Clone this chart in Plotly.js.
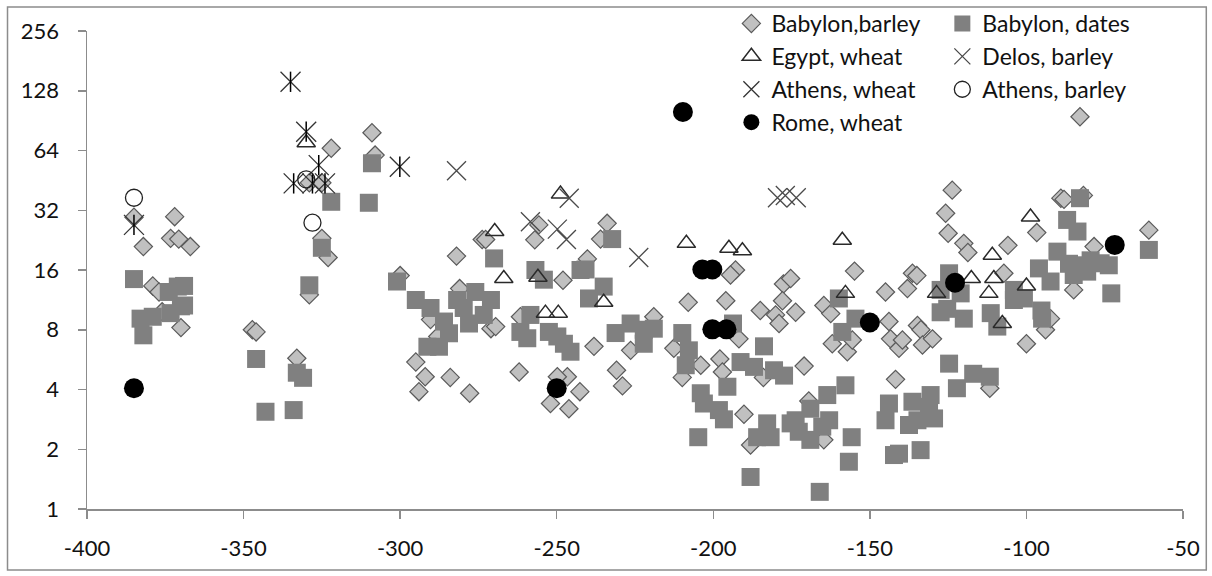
<!DOCTYPE html>
<html>
<head>
<meta charset="utf-8">
<script src="https://cdn.plot.ly/plotly-3.0.1.min.js"></script>
<style>
html,body{margin:0;padding:0;background:#fff;}
#chart{width:1212px;height:576px;}
</style>
</head>
<body>
<div id="chart"></div>
<script>
// ---- Data ----
const babylonBarleyX = [-385,-382,-372,-373.3,-370.7,-367,-379,-377,-376,-370,-347.2,-346,-333,-329,-322,-329,-325,-325,-323,-309,-308,-300,-282,-281,-273.8,-272.7,-290.3,-288,-271,-269.5,-295,-292,-294,-284,-277.8,-255.7,-257,-248,-261.6,-262,-246.6,-249.8,-252,-246.1,-242.6,-233.9,-236,-240.2,-238.1,-219,-226.4,-230.9,-229,-208,-196,-192.9,-194.5,-191.8,-212.6,-209.9,-204,-197.9,-197.1,-185,-180.1,-179,-177.6,-175.3,-177.9,-190.2,-188.1,-173.7,-184,-164.7,-162.5,-154.9,-162,-157.2,-155.6,-143.9,-143.4,-140.7,-139.6,-145,-138,-136.4,-135,-134.8,-133.7,-133.2,-130,-171,-141.8,-169.5,-164.7,-123.7,-125.8,-125,-120,-118.7,-111.7,-105.9,-107.2,-96.7,-89,-88,-81.8,-82.9,-78.4,-84.9,-60.9,-93.9,-100,-92.3];
const babylonBarleyY = [29.5,21,29.7,23.1,22.9,21,13.3,12.4,9.85,8.2,8.0,7.8,5.75,12,65.7,44,44,23.1,18.5,78.6,60.7,15,18.8,12.9,22.8,22.8,9,7.4,8.1,8.3,5.5,4.64,3.9,4.6,3.83,27,22.7,14.2,9.3,4.9,4.64,4.64,3.4,3.2,3.9,27.5,22.9,18.2,6.6,9.3,6.3,5.0,4.17,11,11.2,16,15.1,7.2,6.45,4.6,5.3,5.7,4.9,10,9.5,8.6,13.6,14.5,11.2,3.0,2.1,9.8,4.6,10.6,9.65,15.8,6.8,6.2,7.1,8.8,7.2,6.45,7.1,12.4,12.9,15.4,15,8.4,8.0,6.7,7.2,5.25,4.5,3.5,2.23,40.4,30.9,24.5,21.8,19.6,4.06,21.3,15.4,24.7,36.8,36.3,38,94.7,21,12.7,25.4,8.0,6.8,9.1];

const babylonDatesX = [-385,-371,-369,-373.9,-370,-369,-373.3,-382.9,-379,-382,-346,-333,-331,-343,-334,-329,-325,-322,-309,-310,-301,-295,-290.3,-286,-291.3,-287.6,-284.4,-281.8,-276,-271,-273.3,-278,-279.7,-270,-256.8,-254.1,-242.4,-261.6,-259.4,-252.5,-249.8,-247.7,-245.6,-258.4,-232.3,-240.8,-235,-239.7,-231.2,-226.4,-222.2,-219,-222.2,-209.9,-207.8,-208.8,-193.7,-204,-203,-198.2,-196.6,-204.8,-195.5,-191.3,-187,-183.8,-180.6,-177.4,-182.8,-181.7,-186,-188.1,-175.3,-159.9,-154.6,-158.8,-157.8,-163.6,-169,-173.7,-172.7,-169,-165.2,-163,-155.8,-156.7,-166,-143.9,-145,-140.7,-142.3,-133.8,-136.4,-130.6,-131.1,-129.5,-137.5,-134.8,-124.7,-127.4,-121,-127.4,-125.3,-120,-124.7,-122.2,-117,-111.7,-82.9,-87,-83.7,-90.1,-96,-92.3,-86.4,-82.6,-79.5,-76.3,-73.7,-80.6,-84.9,-72.9,-60.9,-104,-95.2,-100.8,-95,-111.4,-104,-109.3];
const babylonDatesY = [14.4,13.2,13.3,12.4,10.5,10.6,9.7,9.1,9.3,7.5,5.7,4.86,4.58,3.09,3.15,13.4,20.7,35.3,55.2,34.9,14,11.3,10.3,8.8,6.57,6.57,7.68,11.3,12.4,11.3,9.5,8.6,10.3,18.3,16,14.3,16,7.8,7.25,7.8,7.4,6.8,6.2,9.5,22.9,16.1,13.2,11.5,7.7,8.6,8.0,8.1,6.8,7.7,6.3,5.3,8.6,3.83,3.4,3.15,2.83,2.3,4.13,5.5,5.2,6.6,5.0,4.7,2.7,2.3,2.3,1.45,2.7,11.5,9.1,7.8,4.2,3.75,3.2,2.8,2.45,2.23,2.6,2.8,2.3,1.73,1.22,3.4,2.8,1.9,1.87,1.98,3.47,3.75,3.27,2.86,2.65,2.8,15.4,12.7,12.2,9.8,10.2,9.1,5.4,4.06,4.8,4.64,36.8,28.6,25,19.8,16.3,14,17.2,16.9,17.9,17.3,16.9,15.7,15.1,12.2,20.2,12.7,10,11.5,9.1,9.7,11.3,8.3];

const egyptWheatX = [-330,-248.8,-269.8,-266.9,-256,-253.6,-249.5,-235,-208.6,-195,-190.7,-158.8,-157.8,-128.7,-117.6,-110.9,-110.4,-112,-100,-107.7,-98.7];
const egyptWheatY = [70,38.6,25,14.5,14.7,9.7,9.7,11,21.8,20.6,20,22.6,12.2,12.2,14.5,19,14.5,12.2,13.3,8.6,29.6];

const delosBarleyX = [-282,-258.4,-249.8,-246,-246.9,-223.8,-179.5,-177,-173.5];
const delosBarleyY = [50.6,28,25.7,36.8,22.8,18.5,37,38,37];

const athensWheatX = [-385,-335,-330,-326,-334,-328,-324,-300.1];
const athensWheatY = [27,142,79.6,54,43.7,43.7,43.7,53];

const athensBarleyX = [-385,-330,-328];
const athensBarleyY = [37,45.8,27.7];

const romeWheatX = [-385,-250,-209.7,-203.5,-200.3,-200.3,-195.8,-150,-122.8,-71.8];
const romeWheatY = [4.06,4.06,100,16.1,16.1,8.04,8.04,8.7,13.8,21.4];

const xTicks = [-400,-350,-300,-250,-200,-150,-100,-50];
const yTicks = [1,2,4,8,16,32,64,128,256];

// ---- Traces ----
const traces = [
  {name:'Babylon,barley', x:babylonBarleyX, y:babylonBarleyY, type:'scatter', mode:'markers', legend:'legend',
   marker:{symbol:'diamond', size:14, color:'#C0C0C0', line:{color:'#5a5a5a', width:1.2}}},
  {name:'Babylon, dates', x:babylonDatesX, y:babylonDatesY, type:'scatter', mode:'markers', legend:'legend2',
   marker:{symbol:'square', size:18, color:'#808080', line:{width:0}}},
  {name:'Egypt, wheat', x:egyptWheatX, y:egyptWheatY, type:'scatter', mode:'markers', legend:'legend',
   marker:{symbol:'triangle-up-open', size:16, color:'#2a2a2a', line:{color:'#2a2a2a', width:1.5}}},
  {name:'Delos, barley', x:delosBarleyX, y:delosBarleyY, type:'scatter', mode:'markers', legend:'legend2',
   marker:{symbol:'x-thin-open', size:19, color:'#4a4a4a', line:{color:'#4a4a4a', width:1.3}}},
  {name:'Athens, wheat', x:athensWheatX, y:athensWheatY, type:'scatter', mode:'markers', legend:'legend', legendgroup:'aw',
   marker:{symbol:'x-thin-open', size:20, color:'#333', line:{color:'#333', width:1.3}}},
  {name:'Athens, wheat', x:athensWheatX, y:athensWheatY, type:'scatter', mode:'markers', legend:'legend', legendgroup:'aw', showlegend:false,
   marker:{symbol:'line-ns-open', size:14.5, color:'#000', line:{color:'#000', width:1.5}}},
  {name:'Athens, barley', x:athensBarleyX, y:athensBarleyY, type:'scatter', mode:'markers', legend:'legend2',
   marker:{symbol:'circle-open', size:17, color:'#222', line:{color:'#222', width:1.3}}},
  {name:'Rome, wheat', x:romeWheatX, y:romeWheatY, type:'scatter', mode:'markers', legend:'legend',
   marker:{symbol:'circle', size:20, color:'#000', line:{width:0}}}
];

const W = 1212, H = 576;
const L = 86.5, R = 1182.7, T = 31, B = 509;
const pw = R - L, ph = B - T;
const px = v => (v - L) / pw;
const py = v => (B - v) / ph;

const tickFont = {family:'Lato, "Open Sans", sans-serif', size:22, color:'#111'};
const legFont = {family:'Lato, "Open Sans", sans-serif', size:23, color:'#111'};

const layout = {
  width:W, height:H,
  margin:{l:L, r:W-R, t:T, b:H-B, pad:0, autoexpand:false},
  paper_bgcolor:'#fff', plot_bgcolor:'#fff',
  showlegend:true,
  xaxis:{range:[-400,-50], tickvals:xTicks, ticktext:xTicks.map(String), showgrid:false, zeroline:false,
    showline:true, linecolor:'#8c8c8c', linewidth:1.5, ticks:'outside', ticklen:8, tickcolor:'#8c8c8c', tickwidth:1.5,
    tickfont:tickFont, ticklabelstandoff:11, fixedrange:true, automargin:false},
  yaxis:{type:'log', range:[0, Math.log10(256)], tickvals:yTicks, ticktext:yTicks.map(String), showgrid:false, zeroline:false,
    showline:true, linecolor:'#8c8c8c', linewidth:1.5, ticks:'outside', ticklen:8, tickcolor:'#8c8c8c', tickwidth:1.5,
    tickfont:tickFont, ticklabelstandoff:14, fixedrange:true, automargin:false},
  legend:{x:px(731), y:py(2), xanchor:'left', yanchor:'top', orientation:'v', bgcolor:'rgba(0,0,0,0)', borderwidth:0,
    font:legFont, itemsizing:'trace', tracegroupgap:0},
  legend2:{x:px(942), y:py(2), xanchor:'left', yanchor:'top', orientation:'v', bgcolor:'rgba(0,0,0,0)', borderwidth:0,
    font:legFont, itemsizing:'trace', tracegroupgap:0},
  shapes:[{type:'rect', xref:'paper', yref:'paper', x0:px(7), x1:px(1206), y0:py(7), y1:py(570),
    line:{color:'#8c8c8c', width:1.5}, fillcolor:'rgba(0,0,0,0)', layer:'below'}]
};

Plotly.newPlot('chart', traces, layout, {displayModeBar:false, staticPlot:true});
</script>
</body>
</html>
